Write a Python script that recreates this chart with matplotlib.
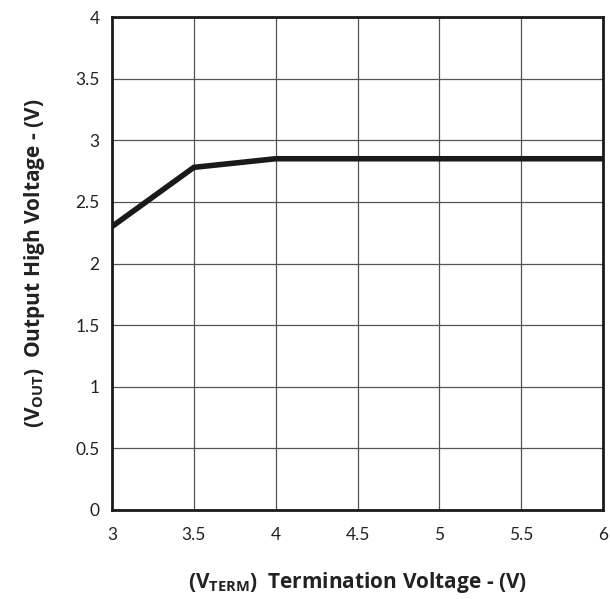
import matplotlib
matplotlib.use("Agg")
import matplotlib.pyplot as plt

v_term = [3, 3.5, 4, 6]
v_out = [2.3, 2.78, 2.85, 2.85]

x_ticks = [3, 3.5, 4, 4.5, 5, 5.5, 6]
x_labels = ["3", "3.5", "4", "4.5", "5", "5.5", "6"]
y_ticks = [0, 0.5, 1, 1.5, 2, 2.5, 3, 3.5, 4]
y_labels = ["0", "0.5", "1", "1.5", "2", "2.5", "3", "3.5", "4"]

plt.rcParams['font.family'] = ['Lato', 'DejaVu Sans']
plt.rcParams['mathtext.fontset'] = 'custom'
plt.rcParams['mathtext.bf'] = 'Open Sans:bold'
plt.rcParams['mathtext.rm'] = 'Open Sans:bold'

fig = plt.figure(figsize=(6.1, 5.99), dpi=100)
ax = fig.add_axes([112/610, 1-510/599, 491/610, 493/599])

ax.plot(v_term, v_out, color='#1a1a1a', lw=4, solid_capstyle='butt', solid_joinstyle='miter', zorder=3)

ax.set_xlim(3, 6)
ax.set_ylim(0, 4)
ax.set_xticks(x_ticks)
ax.set_xticklabels(x_labels)
ax.set_yticks(y_ticks)
ax.set_yticklabels(y_labels)
ax.tick_params(length=0, labelsize=12.5, colors='#222222', pad=9)
ax.tick_params(axis='x', pad=12)
ax.grid(True, color='#555555', lw=0.9)
for s in ax.spines.values():
    s.set_linewidth(2)
    s.set_color('#1a1a1a')

lab_font = dict(family='Open Sans', fontsize=15, fontweight='bold', color='#222222')
ax.set_xlabel(r'($\mathbf{V_{TERM}}$)  Termination Voltage - (V)', labelpad=20, **lab_font)
ax.set_ylabel(r'($\mathbf{V_{OUT}}$)  Output High Voltage - (V)', labelpad=20, **lab_font)

fig.savefig('out.png', dpi=100)
